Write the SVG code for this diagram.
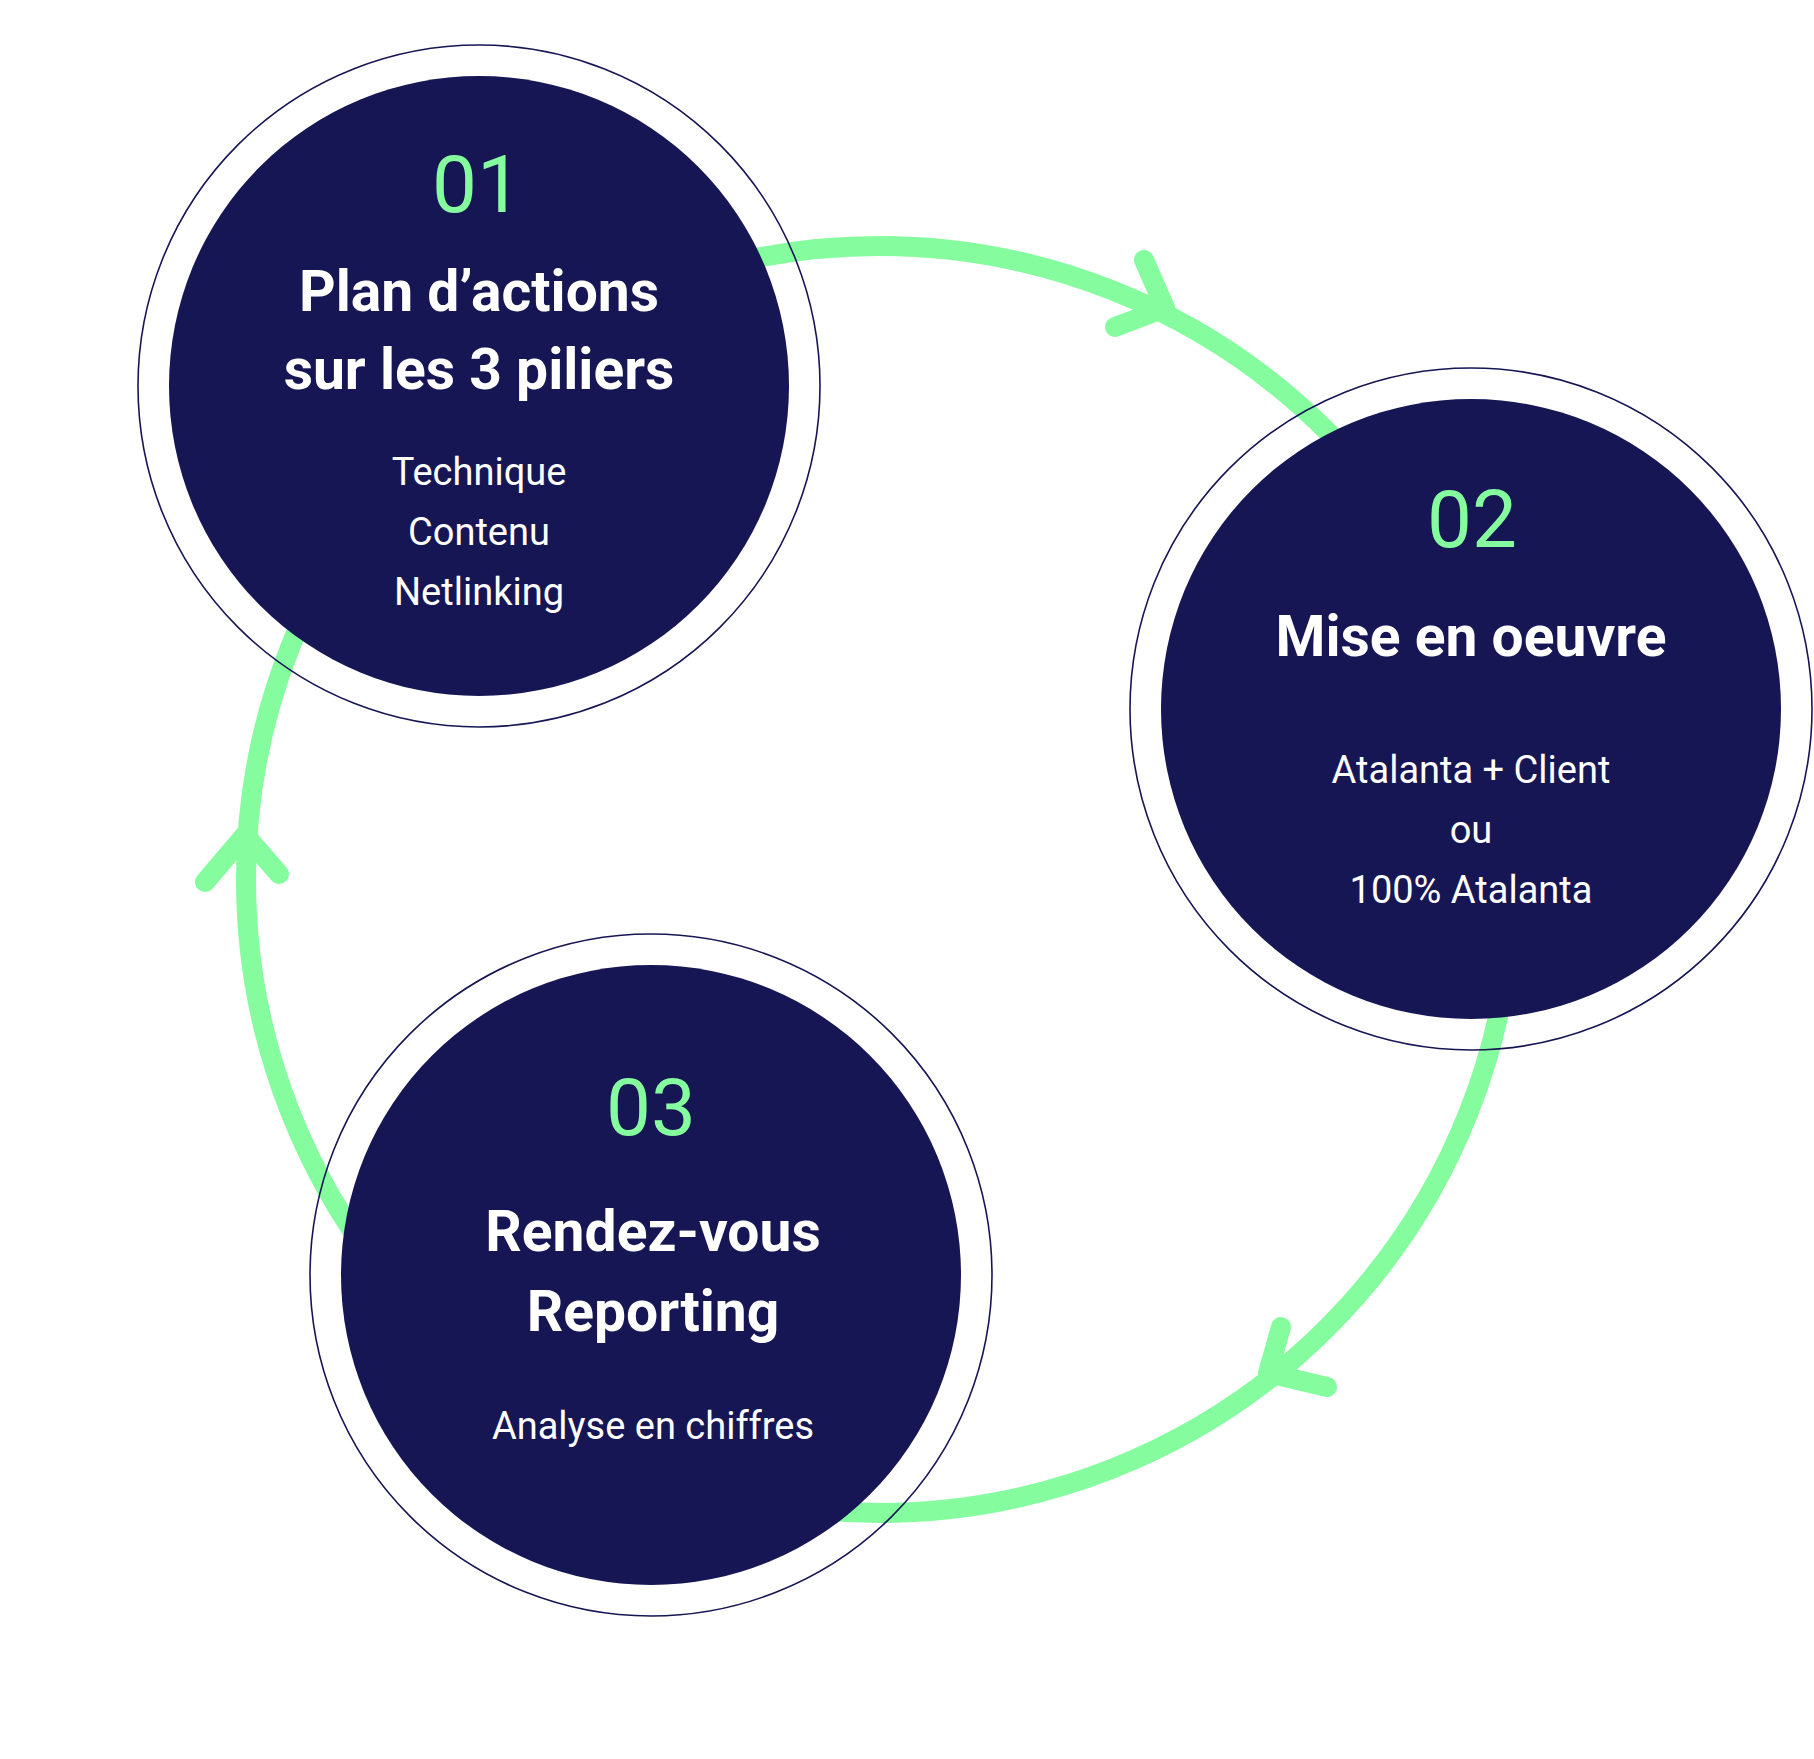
<svg xmlns="http://www.w3.org/2000/svg" width="1814" height="1759" viewBox="0 0 1814 1759">
  <style>
    .ring { fill: none; stroke: #171654; stroke-width: 1.6; }
    .disc { fill: #171654; }
    .flow { fill: none; stroke: #85FD9F; stroke-width: 20; stroke-linecap: round; stroke-linejoin: round; }
    .num { font-family: Roboto, "Liberation Sans", sans-serif; font-weight: 400; font-size: 80px; fill: #85FD9F; text-anchor: middle; }
    .title { font-family: Roboto, "Liberation Sans", sans-serif; font-weight: 700; font-size: 57px; fill: #FFFFFF; text-anchor: middle; }
    .sub { font-family: Roboto, "Liberation Sans", sans-serif; font-weight: 400; font-size: 38px; fill: #FFFFFF; text-anchor: middle; }
  </style>
  <rect x="0" y="0" width="1814" height="1759" fill="#FFFFFF"/>
  <g id="connectors">
    <circle class="flow" cx="879.5" cy="879.5" r="633.5"/>
    <polyline class="flow" points="1144,260 1165,308 1115,327"/>
    <polyline class="flow" points="1281,1327 1268,1373 1327,1387"/>
    <polyline class="flow" points="205,882 245,835 279,874"/>
  </g>
  <g id="node-01">
    <circle class="ring" cx="479" cy="386" r="341"/>
    <circle class="disc" cx="479" cy="386" r="310"/>
    <text class="num" x="477" y="212">01</text>
    <text class="title" x="479" y="311">Plan d’actions</text>
    <text class="title" x="479" y="389">sur les 3 piliers</text>
    <text class="sub" x="479" y="485">Technique</text>
    <text class="sub" x="479" y="545">Contenu</text>
    <text class="sub" x="479" y="605">Netlinking</text>
  </g>
  <g id="node-02">
    <circle class="ring" cx="1471" cy="709" r="341"/>
    <circle class="disc" cx="1471" cy="709" r="310"/>
    <text class="num" x="1472" y="547">02</text>
    <text class="title" x="1471" y="656">Mise en oeuvre</text>
    <text class="sub" x="1471" y="783">Atalanta + Client</text>
    <text class="sub" x="1471" y="843">ou</text>
    <text class="sub" x="1471" y="903">100% Atalanta</text>
  </g>
  <g id="node-03">
    <circle class="ring" cx="651" cy="1275" r="341"/>
    <circle class="disc" cx="651" cy="1275" r="310"/>
    <text class="num" x="651" y="1135">03</text>
    <text class="title" x="653" y="1251">Rendez-vous</text>
    <text class="title" x="653" y="1331">Reporting</text>
    <text class="sub" x="653" y="1439">Analyse en chiffres</text>
  </g>
</svg>
